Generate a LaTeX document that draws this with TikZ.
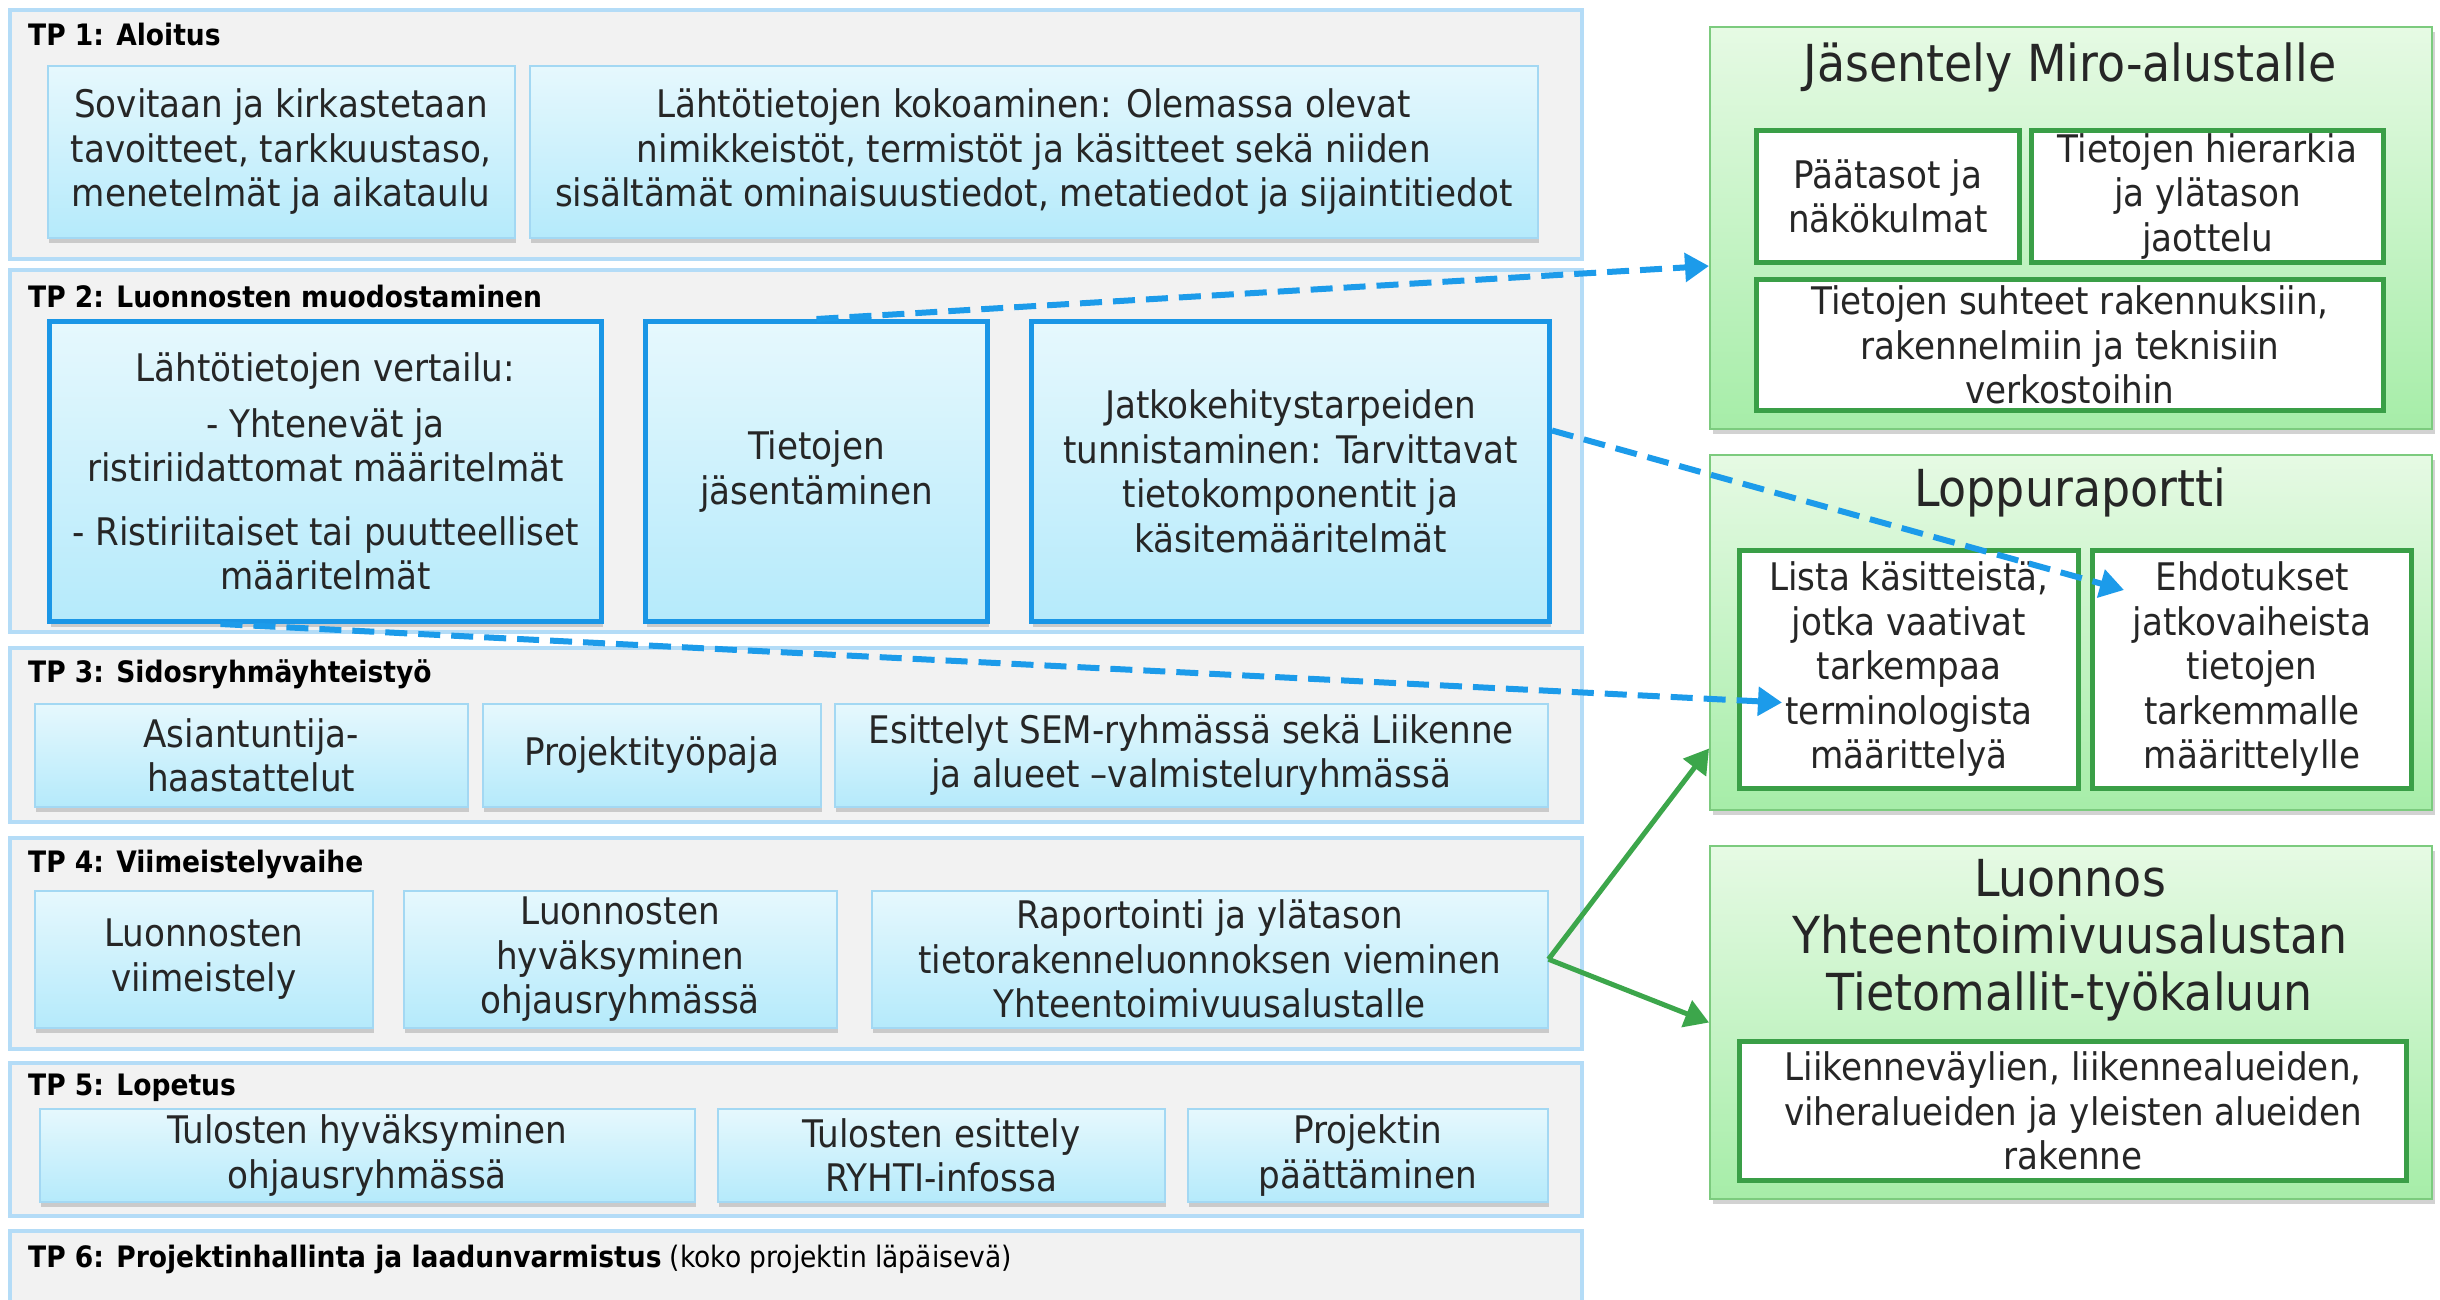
\documentclass[tikz,border=0pt]{standalone}
\usepackage{fontspec}
\setmainfont{DejaVu Sans Condensed}
\usetikzlibrary{calc,shadows,arrows.meta}

\definecolor{bandfill}{HTML}{F2F2F2}
\definecolor{bandline}{HTML}{B4DCF7}
\definecolor{taskline}{HTML}{A3D8F3}
\definecolor{taskTop}{HTML}{E6F8FD}
\definecolor{taskBot}{HTML}{B5EAFB}
\definecolor{draftline}{HTML}{1A96E6}
\definecolor{groupline}{HTML}{7CCB7E}
\definecolor{groupTop}{HTML}{E6FAE4}
\definecolor{groupBot}{HTML}{A6EDA8}
\definecolor{itemline}{HTML}{3A9F47}
\definecolor{flowblue}{HTML}{1C9BEA}
\definecolor{feedgreen}{HTML}{3CA64B}
\definecolor{textcol}{HTML}{262626}

\newcommand\bodyfont{\fontsize{38}{44.5}\selectfont}
\newcommand\tpfont{\fontsize{29.5}{34}\selectfont}
\newcommand\gfont{\fontsize{51}{57}\selectfont}

\begin{document}
\begin{tikzpicture}[x=1pt,y=-1pt,
  band/.style={draw=bandline, line width=4pt, fill=bandfill, anchor=north west,
    inner sep=0pt, minimum width=1572pt},
  task/.style={draw=taskline, line width=1.5pt, top color=taskTop, bottom color=taskBot,
    anchor=north west, inner sep=2pt, align=center, font=\bodyfont, text=textcol,
    drop shadow={shadow xshift=1pt, shadow yshift=-5pt, opacity=0.35}},
  draftbox/.style={task, draw=draftline, line width=5pt},
  group/.style={draw=groupline, line width=2pt, top color=groupTop, bottom color=groupBot,
    anchor=north west, inner sep=0pt,
    drop shadow={shadow xshift=3pt, shadow yshift=-5pt, opacity=0.35}},
  item/.style={draw=itemline, line width=5pt, fill=white, anchor=north west,
    align=center, font=\bodyfont, text=textcol, inner sep=1pt},
  tptitle/.style={anchor=west, font=\tpfont\bfseries, inner sep=0pt, text=black},
  gtitle/.style={font=\gfont, align=center, text=textcol, inner sep=0pt},
  flow/.style={draw=flowblue, line width=6pt, dash pattern=on 22pt off 11pt,
    -{Triangle[length=24pt,width=28pt]}},
  feed/.style={draw=feedgreen, line width=5pt, -{Triangle[length=24pt,width=28pt]}}
]
\useasboundingbox (0,0) rectangle (2440,1299);
\fill[white] (0,0) rectangle (2440,1299);

% ---------- work packages ----------
\node[band, minimum height=249pt] (tp1) at (8,8) {};
\node[band, minimum height=362pt] (tp2) at (8,268) {};
\node[band, minimum height=174pt] (tp3) at (8,646) {};
\node[band, minimum height=211pt] (tp4) at (8,836) {};
\node[band, minimum height=153pt] (tp5) at (8,1061) {};
\node[band, minimum height=100pt] (tp6) at (8,1229) {};

\node[tptitle] (t1) at (28,34) {TP 1: Aloitus};
\node[tptitle] (t2) at (28,296) {TP 2: Luonnosten muodostaminen};
\node[tptitle] (t3) at (28,674) {TP 3: Sidosryhmäyhteistyö};
\node[tptitle] (t4) at (28,864) {TP 4: Viimeistelyvaihe};
\node[tptitle] (t5) at (28,1088) {TP 5: Lopetus};
\node[tptitle, font=\tpfont] (t6) at (28,1259) {\textbf{TP 6: Projektinhallinta ja laadunvarmistus} (koko projektin läpäisevä)};

% TP 1
\node[task, minimum width=467pt, minimum height=172pt] (a1) at (47,65)
  {Sovitaan ja kirkastetaan\\tavoitteet, tarkkuustaso,\\menetelmät ja aikataulu};
\node[task, minimum width=1008pt, minimum height=172pt] (a2) at (529,65)
  {Lähtötietojen kokoaminen: Olemassa olevat\\nimikkeistöt, termistöt ja käsitteet sekä niiden\\sisältämät ominaisuustiedot, metatiedot ja sijaintitiedot};

% TP 2
\node[draftbox, minimum width=552pt, minimum height=300pt] (b1) at (47,319)
  {Lähtötietojen vertailu:\\[11pt]- Yhtenevät ja\\ristiriidattomat määritelmät\\[19pt]- Ristiriitaiset tai puutteelliset\\määritelmät};
\node[draftbox, minimum width=342pt, minimum height=300pt] (b2) at (643,319)
  {Tietojen\\jäsentäminen};
\node[draftbox, minimum width=518pt, minimum height=300pt] (b3) at (1029,319)
  {Jatkokehitystarpeiden\\tunnistaminen: Tarvittavat\\tietokomponentit ja\\käsitemääritelmät};

% TP 3
\node[task, minimum width=433pt, minimum height=103pt] (c1) at (34,703)
  {Asiantuntija-\\haastattelut};
\node[task, minimum width=338pt, minimum height=103pt] (c2) at (482,703)
  {Projektityöpaja};
\node[task, minimum width=713pt, minimum height=103pt] (c3) at (834,703)
  {Esittelyt SEM-ryhmässä sekä Liikenne\\ja alueet –valmisteluryhmässä};

% TP 4
\node[task, minimum width=338pt, minimum height=137pt] (d1) at (34,890)
  {Luonnosten\\viimeistely};
\node[task, minimum width=433pt, minimum height=137pt] (d2) at (403,890)
  {Luonnosten\\hyväksyminen\\ohjausryhmässä};
\node[task, minimum width=676pt, minimum height=137pt] (d3) at (871,890)
  {Raportointi ja ylätason\\tietorakenneluonnoksen vieminen\\Yhteentoimivuusalustalle};

% TP 5
\node[task, minimum width=655pt, minimum height=93pt, inner sep=0pt] (e1) at (39,1108)
  {Tulosten hyväksyminen\\ohjausryhmässä};
\node[task, minimum width=447pt, minimum height=93pt, inner sep=0pt] (e2) at (717,1108)
  {Tulosten esittely\\RYHTI-infossa};
\node[task, minimum width=360pt, minimum height=93pt, inner sep=0pt] (e3) at (1187,1108)
  {Projektin\\päättäminen};

% ---------- outputs ----------
\node[group, minimum width=722pt, minimum height=402pt] (g1) at (1709,26) {};
\node[gtitle] (g1t) at (2070,67) {Jäsentely Miro-alustalle};
\node[item, minimum width=263pt, minimum height=132pt] (g1a) at (1754,128)
  {Päätasot ja\\näkökulmat};
\node[item, minimum width=352pt, minimum height=132pt] (g1b) at (2029,128)
  {Tietojen hierarkia\\ja ylätason\\jaottelu};
\node[item, minimum width=627pt, minimum height=131pt] (g1c) at (1754,277)
  {Tietojen suhteet rakennuksiin,\\rakennelmiin ja teknisiin\\verkostoihin};

\node[group, minimum width=722pt, minimum height=355pt] (g2) at (1709,454) {};
\node[gtitle] (g2t) at (2070,492) {Loppuraportti};
\node[item, minimum width=339pt, minimum height=238pt] (g2a) at (1737,548)
  {Lista käsitteistä,\\jotka vaativat\\tarkempaa\\terminologista\\määrittelyä};
\node[item, minimum width=319pt, minimum height=238pt] (g2b) at (2090,548)
  {Ehdotukset\\jatkovaiheista\\tietojen\\tarkemmalle\\määrittelylle};

\node[group, minimum width=722pt, minimum height=353pt] (g3) at (1709,845) {};
\node[gtitle] (g3t) at (2070,940) {Luonnos\\Yhteentoimivuusalustan\\Tietomallit-työkaluun};
\node[item, minimum width=667pt, minimum height=139pt] (g3a) at (1737,1039)
  {Liikenneväylien, liikennealueiden,\\viheralueiden ja yleisten alueiden\\rakenne};

% ---------- connectors ----------
\draw[flow] (b2.north) -- ([yshift=-38pt]g1.west);
\draw[flow] ([yshift=41pt]b3.east) -- ($(g2b.north west)+(34,42)$);
\draw[flow] ($(b1.south)+(-105,0)$) -- ($(g2a.west)+(45,33)$);
\draw[feed] (d3.east) -- ([yshift=-116pt]g2.west);
\draw[feed] (d3.east) -- (g3.west);
\end{tikzpicture}
\end{document}
